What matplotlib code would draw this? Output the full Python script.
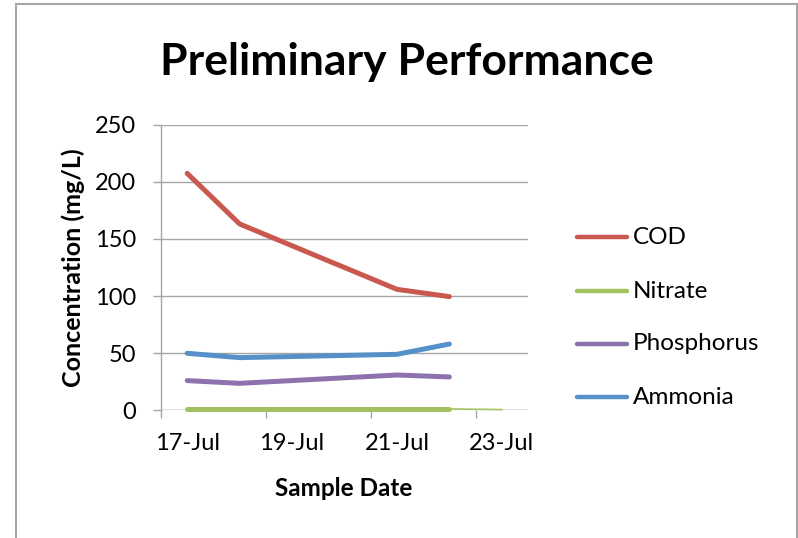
import matplotlib
matplotlib.use("Agg")
import matplotlib.pyplot as plt
from matplotlib.patches import Rectangle
from matplotlib.lines import Line2D

# ---- data ----
sample_days = [17, 18, 21, 22]          # July day numbers
cod = [207.4, 163.1, 105.9, 99.5]
nitrate = [1.2, 1.2, 1.2, 1.2]
nitrate_tail_days = [22, 23]
nitrate_tail = [1.2, 0.6]
phosphorus = [26.0, 23.6, 30.9, 29.2]
ammonia = [49.9, 46.1, 49.0, 58.0]
series_names = ["COD", "Nitrate", "Phosphorus", "Ammonia"]
label_days = [17, 19, 21, 23]
label_texts = ["17-Jul", "19-Jul", "21-Jul", "23-Jul"]
y_ticks = [0, 50, 100, 150, 200, 250]

colors = {"COD": "#C9594F", "Nitrate": "#A3C25F", "Phosphorus": "#8D72AE", "Ammonia": "#5690C8"}
FONT = "Lato"
plt.rcParams["font.family"] = [FONT, "DejaVu Sans"]

fig = plt.figure(figsize=(7.98, 5.38), dpi=100)
W, H = 798, 538

# chart border
fig.patches.append(Rectangle((15.5 / W, -0.01), (796.5 - 15.5) / W, 1 - 3.5 / H + 0.01,
                             transform=fig.transFigure, fill=False, edgecolor="#A6A6A6",
                             linewidth=1.5))

left, right = 161 / W, 528 / W
bottom, top = 1 - 410.3 / H, 1 - 124.7 / H
ax = fig.add_axes([left, bottom, right - left, top - bottom])

lw = 3.6
kw = dict(lw=lw, solid_capstyle="round", solid_joinstyle="round", zorder=3, clip_on=False)
ax.plot(sample_days, cod, color=colors["COD"], **kw)
ax.plot(nitrate_tail_days, nitrate_tail, color=colors["Nitrate"], lw=1.2, zorder=2, clip_on=False)
ax.plot(sample_days, nitrate, color=colors["Nitrate"], **kw)
ax.plot(sample_days, phosphorus, color=colors["Phosphorus"], **kw)
ax.plot(sample_days, ammonia, color=colors["Ammonia"], **kw)

ax.set_xlim(16.5, 23.5)
ax.set_ylim(0, 250)
grid_c = "#A6A6A6"
for s in ["top", "right", "bottom"]:
    ax.spines[s].set_visible(False)
ax.spines["left"].set_color(grid_c)
ax.spines["left"].set_linewidth(1.0)
ax.yaxis.grid(True, color=grid_c, linewidth=1.0)
ax.set_axisbelow(True)

ax.set_yticks(y_ticks)
ax.set_yticklabels([str(v) for v in y_ticks])
ax.tick_params(axis="y", length=5.8, width=1.0, color=grid_c, labelsize=17, pad=12)

# x: tick marks at slot boundaries, labels centered on days
ax.set_xticks([d - 0.5 for d in label_days])
ax.set_xticklabels([])
ax.tick_params(axis="x", which="major", length=5.8, width=1.0, color=grid_c, direction="out")
ax.set_xticks(label_days, minor=True)
ax.set_xticklabels(label_texts, minor=True)
ax.tick_params(axis="x", which="minor", length=0, labelsize=17, pad=16)

ax.axhline(0, color=grid_c, lw=1.0, zorder=1)

fig.text(407 / W, 1 - 62 / H, "Preliminary Performance", ha="center", va="center",
         fontsize=32, fontweight="bold")
fig.text(73 / W, 1 - 268 / H, "Concentration (mg/L)", ha="center", va="center",
         rotation=90, fontsize=18, fontweight="bold")
fig.text(344 / W, 1 - 488 / H, "Sample Date", ha="center", va="center",
         fontsize=17.5, fontweight="bold")

# legend
leg_y = [237, 291, 344, 397]
for name, yy in zip(series_names, leg_y):
    fy = 1 - yy / H
    fig.add_artist(Line2D([577 / W, 627 / W], [fy, fy], transform=fig.transFigure,
                          color=colors[name], lw=3.2, solid_capstyle="round"))
    fig.text(633 / W, fy, name, ha="left", va="center", fontsize=17.5)

fig.savefig("out.png", dpi=100)
